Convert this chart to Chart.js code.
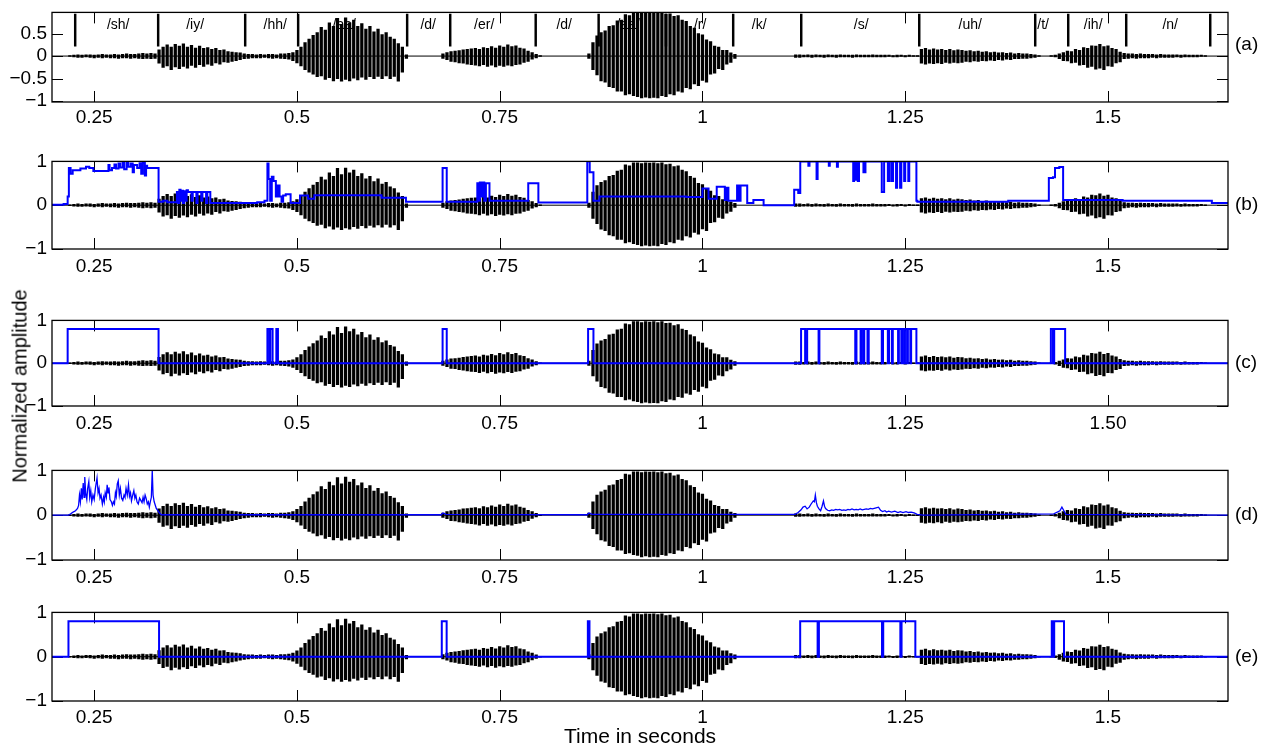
<!DOCTYPE html>
<html>
<head>
<meta charset="utf-8">
<script src="https://cdn.jsdelivr.net/npm/chart.js@4.4.1/dist/chart.umd.min.js"></script>
<style>
  html, body { margin: 0; padding: 0; background: #fff; }
  #figure { position: relative; width: 1277px; height: 751px; overflow: hidden; background: #fff; }
  #figure canvas { position: absolute; left: 0; }
  #ylabel {
    position: absolute; left: 20px; top: 386px;
    transform: translate(-50%, -50%) rotate(-90deg);
    font: 20px "Liberation Sans", Arial, Helvetica, sans-serif;
    white-space: nowrap; color: #000;
  }
</style>
</head>
<body>
<div id="figure">
  <canvas id="panelA"></canvas>
  <canvas id="panelB"></canvas>
  <canvas id="panelC"></canvas>
  <canvas id="panelD"></canvas>
  <canvas id="panelE"></canvas>
  <div id="ylabel">Normalized amplitude</div>
</div>
<script>
// Time axis (seconds)
const timeMin = 0.198;
const timeMax = 1.648;
const timeTicks = [0.25, 0.5, 0.75, 1, 1.25, 1.5];
const timeTickLabels = ['0.25', '0.5', '0.75', '1', '1.25', '1.5'];
const timeTickLabelsC = ['0.25', '0.5', '0.75', '1', '1.25', '1.50'];

// Amplitude ticks
const ampTicksA = [0.5, 0, -0.5, -1];
const ampTickLabelsA = ['0.5', '0', '\u22120.5', '\u22121'];
const ampTicks = [1, 0, -1];
const ampTickLabels = ['1', '0', '\u22121'];

// Speech waveform: peak / trough per 5 ms frame, starting at 0.220 s
const waveStart = 0.22;
const waveStep = 0.005;
const waveTop = [
  0.01, 0.02, 0.03, 0.02, 0.03, 0.03, 0.02, 0.03, 0.04, 0.03, 0.03, 0.04, 0.03, 0.04, 0.05, 0.04, 0.04, 0.05, 0.06, 0.05, // 0.22
  0.06, 0.05, 0.14, 0.2, 0.25, 0.2, 0.26, 0.22, 0.27, 0.2, 0.24, 0.18, 0.22, 0.17, 0.19, 0.15, 0.17, 0.13, 0.14, 0.1,      // 0.32
  0.09, 0.08, 0.07, 0.05, 0.04, 0.04, 0.03, 0.04, 0.03, 0.04, 0.04, 0.03, 0.05, 0.05, 0.06, 0.08, 0.13, 0.2, 0.3, 0.38,    // 0.42
  0.46, 0.52, 0.64, 0.58, 0.74, 0.66, 0.84, 0.7, 0.85, 0.74, 0.8, 0.66, 0.72, 0.6, 0.66, 0.54, 0.6, 0.48, 0.52, 0.42,      // 0.52
  0.38, 0.28, 0.2, 0.03, 0, 0, 0, 0, 0, 0, 0, 0, 0.05, 0.08, 0.1, 0.11, 0.12, 0.14, 0.15, 0.16,                           // 0.62
  0.17, 0.15, 0.19, 0.17, 0.21, 0.18, 0.23, 0.2, 0.25, 0.21, 0.23, 0.18, 0.16, 0.11, 0.08, 0.04, 0.01, 0, 0, 0,            // 0.72
  0, 0, 0, 0, 0, 0, 0, 0, 0.05, 0.3, 0.45, 0.52, 0.56, 0.66, 0.68, 0.78, 0.8, 0.92, 0.9, 0.97,                            // 0.82
  0.97, 0.95, 0.97, 0.96, 0.97, 0.95, 0.97, 0.93, 0.94, 0.88, 0.9, 0.8, 0.77, 0.66, 0.62, 0.5, 0.47, 0.36, 0.32, 0.22,     // 0.92
  0.2, 0.13, 0.13, 0.07, 0.04, 0, 0, 0, 0, 0, 0, 0, 0, 0, 0, 0, 0, 0, 0, 0.03,                                             // 1.02
  0.03, 0.02, 0.03, 0.02, 0.03, 0.02, 0.02, 0.03, 0.02, 0.02, 0.03, 0.02, 0.02, 0.02, 0.03, 0.02, 0.02, 0.02, 0.03, 0.02, // 1.12
  0.02, 0.02, 0.02, 0.01, 0.02, 0.02, 0.01, 0.02, 0.01, 0.01, 0.15, 0.17, 0.14, 0.16, 0.14, 0.15, 0.13, 0.15, 0.12, 0.14, // 1.22
  0.13, 0.11, 0.12, 0.1, 0.11, 0.09, 0.1, 0.08, 0.09, 0.07, 0.08, 0.06, 0.07, 0.05, 0.06, 0.05, 0.05, 0.04, 0.03, 0.01,    // 1.32
  0, 0, 0.01, 0.02, 0.05, 0.08, 0.11, 0.1, 0.15, 0.13, 0.19, 0.17, 0.23, 0.22, 0.26, 0.21, 0.23, 0.17, 0.15, 0.09,         // 1.42
  0.06, 0.05, 0.05, 0.04, 0.05, 0.04, 0.04, 0.04, 0.03, 0.04, 0.03, 0.03, 0.03, 0.03, 0.02, 0.03, 0.02, 0.02, 0.02, 0.02, // 1.52
  0.01, 0                                                                                                                   // 1.62
];
const waveBottom = [
  -0.01, -0.02, -0.03, -0.03, -0.02, -0.03, -0.04, -0.03, -0.04, -0.03, -0.04, -0.04, -0.05, -0.04, -0.04, -0.05, -0.04, -0.05, -0.06, -0.05,
  -0.06, -0.05, -0.16, -0.25, -0.22, -0.3, -0.24, -0.28, -0.23, -0.27, -0.21, -0.25, -0.19, -0.23, -0.18, -0.21, -0.15, -0.18, -0.13, -0.14,
  -0.12, -0.1, -0.08, -0.06, -0.05, -0.04, -0.04, -0.04, -0.03, -0.04, -0.05, -0.04, -0.05, -0.06, -0.07, -0.1, -0.15, -0.22, -0.3, -0.36,
  -0.4, -0.46, -0.44, -0.52, -0.48, -0.55, -0.5, -0.56, -0.52, -0.55, -0.49, -0.53, -0.47, -0.52, -0.46, -0.5, -0.45, -0.5, -0.44, -0.5,
  -0.45, -0.56, -0.36, -0.05, 0, 0, 0, 0, 0, 0, 0, 0, -0.05, -0.08, -0.12, -0.13, -0.15, -0.16, -0.18, -0.19,
  -0.2, -0.22, -0.19, -0.23, -0.2, -0.24, -0.21, -0.23, -0.2, -0.22, -0.19, -0.18, -0.14, -0.12, -0.07, -0.04, -0.01, 0, 0, 0,
  0, 0, 0, 0, 0, 0, 0, 0, -0.05, -0.3, -0.42, -0.55, -0.58, -0.68, -0.7, -0.78, -0.78, -0.86, -0.84, -0.88,
  -0.9, -0.93, -0.91, -0.93, -0.92, -0.93, -0.88, -0.9, -0.84, -0.86, -0.78, -0.8, -0.7, -0.73, -0.62, -0.66, -0.54, -0.58, -0.4, -0.38,
  -0.28, -0.3, -0.18, -0.14, -0.05, 0, 0, 0, 0, 0, 0, 0, 0, 0, 0, 0, 0, 0, 0, -0.03,
  -0.03, -0.02, -0.02, -0.03, -0.02, -0.02, -0.03, -0.02, -0.02, -0.03, -0.02, -0.02, -0.02, -0.03, -0.02, -0.02, -0.02, -0.02, -0.02, -0.02,
  -0.02, -0.02, -0.01, -0.02, -0.02, -0.01, -0.02, -0.01, -0.01, -0.01, -0.16, -0.18, -0.16, -0.17, -0.15, -0.17, -0.14, -0.16, -0.14, -0.15,
  -0.14, -0.12, -0.13, -0.11, -0.12, -0.1, -0.11, -0.09, -0.1, -0.08, -0.09, -0.07, -0.08, -0.06, -0.06, -0.05, -0.05, -0.04, -0.03, -0.01,
  0, 0, -0.01, -0.02, -0.06, -0.1, -0.11, -0.15, -0.14, -0.2, -0.19, -0.25, -0.23, -0.29, -0.27, -0.3, -0.22, -0.23, -0.15, -0.13,
  -0.06, -0.05, -0.04, -0.05, -0.04, -0.04, -0.04, -0.03, -0.04, -0.03, -0.03, -0.03, -0.03, -0.02, -0.03, -0.02, -0.02, -0.02, -0.02, -0.01,
  -0.01, 0
];

// Phoneme segmentation (boundaries in seconds) and label positions
const phoneBounds = [0.2266, 0.3289, 0.4362, 0.5015, 0.6359, 0.689, 0.7944, 0.872, 0.955, 1.0379, 1.1218, 1.2673, 1.4103, 1.451, 1.5225, 1.6261];
const phoneNames = ['/sh/', '/iy/', '/hh/', '/aa/', '/d/', '/er/', '/d/', '/aa/', '/r/', '/k/', '/s/', '/uh/', '/t/', '/ih/', '/n/'];
const phoneLabelTimes = [0.2796, 0.3745, 0.4732, 0.5583, 0.6618, 0.7309, 0.8295, 0.9084, 0.9972, 1.07, 1.1958, 1.3301, 1.4201, 1.4818, 1.5767];

// (b) detector output, value held from each change time
const detBTimes = [
  0.198, 0.2123, 0.2173, 0.2188, 0.2209, 0.2235, 0.233, 0.2399, 0.244, 0.249, 0.2676, 0.269, 0.272, 0.275, 0.277, 0.28, 0.282, 0.285,
  0.287, 0.29, 0.292, 0.295, 0.2975, 0.299, 0.303, 0.306, 0.308, 0.31, 0.3125, 0.314, 0.3153, 0.3294, 0.335, 0.34, 0.352, 0.3535,
  0.355, 0.3565, 0.358, 0.3595, 0.361, 0.3625, 0.364, 0.3656, 0.37, 0.3715, 0.376, 0.3775, 0.382, 0.3835, 0.388, 0.3895, 0.3932,
  0.451, 0.46, 0.4636, 0.465, 0.467, 0.469, 0.4711, 0.474, 0.4761, 0.4786, 0.481, 0.483, 0.4862, 0.4922, 0.5038, 0.5138, 0.5214,
  0.6043, 0.6344, 0.6796, 0.6847, 0.7224, 0.724, 0.7255, 0.727, 0.729, 0.731, 0.733, 0.7374, 0.7852, 0.7977, 0.858, 0.861, 0.8656,
  0.873, 0.98, 1.0, 1.0075, 1.0176, 1.0276, 1.03, 1.032, 1.0427, 1.045, 1.047, 1.0552, 1.0628, 1.0754, 1.1131, 1.1181, 1.1206,
  1.1306, 1.132, 1.1407, 1.142, 1.1558, 1.157, 1.1658, 1.167, 1.1859, 1.187, 1.1885, 1.19, 1.1915, 1.193, 1.1985, 1.201, 1.2211,
  1.224, 1.2286, 1.231, 1.2337, 1.235, 1.2387, 1.24, 1.2437, 1.2452, 1.2487, 1.25, 1.2538, 1.255, 1.2638, 1.265, 1.377, 1.4271,
  1.4322, 1.4347, 1.44, 1.4447, 1.5181, 1.6281, 1.648
];
const detBValues = [
  0.01, 0.03, 0.2, 0.85, 0.72, 0.8, 0.84, 0.88, 0.85, 0.78, 0.92, 0.8, 0.85, 0.93, 0.84, 0.95, 0.86, 0.97,
  0.82, 1.0, 0.88, 0.95, 0.75, 0.92, 0.85, 0.96, 0.72, 0.97, 0.68, 0.9, 0.85, 0.08, 0.1, 0.07, 0.3, 0.05,
  0.35, 0.1, 0.33, 0.05, 0.32, 0.1, 0.34, 0.3, 0.1, 0.3, 0.05, 0.3, 0.1, 0.3, 0.05, 0.3, 0.05,
  0.07, 0.1, 0.95, 0.6, 0.1, 0.65, 0.55, 0.2, 0.45, 0.2, 0.08, 0.22, 0.25, 0.05, 0.22, 0.15, 0.23,
  0.17, 0.08, 0.85, 0.08, 0.5, 0.1, 0.52, 0.2, 0.52, 0.1, 0.5, 0.1, 0.5, 0.06, 1.0, 0.75, 0.1,
  0.2, 0.19, 0.38, 0.15, 0.42, 0.12, 0.4, 0.1, 0.45, 0.1, 0.45, 0.05, 0.12, 0.0, 0.35, 0.28, 1.0,
  0.9, 1.0, 0.6, 1.0, 0.9, 1.0, 0.88, 1.0, 0.55, 1.0, 0.58, 1.0, 0.55, 1.0, 0.75, 1.0, 0.3,
  1.0, 0.55, 1.0, 0.55, 1.0, 0.4, 1.0, 0.4, 1.0, 0.55, 1.0, 0.55, 1.0, 0.1, 0.08, 0.1, 0.62,
  0.64, 0.85, 0.87, 0.12, 0.1, 0.05, 0.05
];

// (c) detector output
const detCTimes = [
  0.198, 0.2173, 0.3294, 0.4636, 0.4661, 0.4671, 0.47, 0.4746, 0.4766, 0.6796, 0.6847, 0.859, 0.8656,
  1.1216, 1.1266, 1.1291, 1.1432, 1.1442, 1.1884, 1.1899, 1.195, 1.196, 1.1985, 1.1995, 1.2035, 1.205,
  1.2211, 1.2226, 1.2286, 1.2302, 1.2337, 1.2347, 1.2412, 1.2422, 1.2452, 1.2462, 1.2487, 1.2497, 1.2523,
  1.2533, 1.2563, 1.2573, 1.2638, 1.4296, 1.4322, 1.4337, 1.4472, 1.648
];
const detCValues = [
  0, 0.8, 0, 0.8, 0, 0.8, 0, 0.8, 0, 0.8, 0, 0.8, 0,
  0.8, 0, 0.8, 0, 0.8, 0, 0.8, 0, 0.8, 0, 0.8, 0, 0.8,
  0, 0.8, 0, 0.8, 0, 0.8, 0, 0.8, 0, 0.8, 0, 0.8, 0,
  0.8, 0, 0.8, 0, 0.8, 0, 0.8, 0, 0
];

// (d) detector output (continuous)
const detDTimes = [
  0.198, 0.2182, 0.221, 0.224, 0.227, 0.2295, 0.2308, 0.2319, 0.233, 0.2342, 0.2352, 0.2365, 0.2375, 0.2384,
  0.2395, 0.2409, 0.242, 0.2434, 0.2445, 0.2458, 0.247, 0.2485, 0.25, 0.2515, 0.2535, 0.2548, 0.256, 0.2572,
  0.2585, 0.2601, 0.2615, 0.2625, 0.2636, 0.265, 0.266, 0.2671, 0.2682, 0.2695, 0.2712, 0.2725, 0.2737, 0.275,
  0.2762, 0.2772, 0.2785, 0.2797, 0.281, 0.2823, 0.2838, 0.2853, 0.2868, 0.288, 0.2893, 0.2908, 0.2923, 0.2935,
  0.2948, 0.296, 0.2975, 0.2989, 0.3002, 0.3014, 0.3028, 0.3044, 0.306, 0.3075, 0.309, 0.3103, 0.3115, 0.3128,
  0.314, 0.3155, 0.3168, 0.318, 0.3192, 0.3205, 0.3216, 0.3226, 0.324, 0.3266, 0.3306, 0.3327,
  0.678, 0.68, 0.684, 0.858, 0.86, 0.864,
  1.1141, 1.118, 1.1216, 1.124, 1.1266, 1.129, 1.1317, 1.134, 1.1367, 1.138, 1.1392, 1.1405, 1.1417, 1.1437,
  1.1457, 1.1475, 1.1492, 1.1505, 1.1518, 1.1543, 1.1568, 1.1593, 1.1618, 1.1643, 1.1668, 1.1693, 1.1719, 1.1744,
  1.1768, 1.1794, 1.1819, 1.1844, 1.187, 1.1895, 1.192, 1.1945, 1.197, 1.1995, 1.202, 1.2045, 1.207, 1.2095,
  1.213, 1.2171, 1.2196, 1.2221, 1.225, 1.227, 1.2296, 1.233, 1.2372, 1.241, 1.244, 1.2472, 1.251, 1.254,
  1.2573, 1.261, 1.2648, 1.2724,
  1.4332, 1.4407, 1.4432, 1.4457, 1.4482, 1.648
];
const detDValues = [
  0, 0, 0.03, 0.07, 0.1, 0.15, 0.22, 0.45, 0.3, 0.6, 0.35, 0.72, 0.4, 0.85,
  0.5, 0.35, 0.6, 0.75, 0.4, 0.55, 0.3, 0.45, 0.35, 0.6, 0.83, 0.5, 0.6, 0.38,
  0.45, 0.25, 0.4, 0.3, 0.5, 0.4, 0.68, 0.5, 0.62, 0.35, 0.3, 0.22, 0.3, 0.25,
  0.5, 0.42, 0.7, 0.77, 0.45, 0.6, 0.38, 0.33, 0.45, 0.4, 0.6, 0.45, 0.68, 0.42,
  0.5, 0.32, 0.45, 0.55, 0.38, 0.45, 0.3, 0.25, 0.38, 0.33, 0.28, 0.4, 0.3, 0.45,
  0.38, 0.25, 0.3, 0.18, 0.3, 0.4, 1.0, 0.45, 0.3, 0.15, 0.05, 0.01,
  0.01, 0.05, 0.02, 0.01, 0.05, 0.02,
  0.02, 0.06, 0.12, 0.18, 0.2, 0.14, 0.18, 0.25, 0.32, 0.3, 0.45, 0.28, 0.2, 0.14,
  0.1, 0.2, 0.32, 0.2, 0.15, 0.11, 0.1, 0.12, 0.11, 0.13, 0.12, 0.13, 0.11, 0.12,
  0.11, 0.13, 0.12, 0.14, 0.12, 0.13, 0.12, 0.14, 0.12, 0.13, 0.14, 0.13, 0.15, 0.14,
  0.16, 0.18, 0.11, 0.08, 0.1, 0.07, 0.09, 0.07, 0.09, 0.06, 0.08, 0.06, 0.08, 0.06,
  0.07, 0.05, 0.02, 0,
  0.03, 0.1, 0.18, 0.1, 0.02, 0
];

// (e) detector output
const detETimes = [
  0.198, 0.2183, 0.33, 0.6786, 0.6846, 0.8587, 0.8607, 1.1205, 1.142, 1.1436, 1.2214, 1.2229,
  1.244, 1.2455, 1.2625, 1.4307, 1.4322, 1.4337, 1.4458, 1.648
];
const detEValues = [
  0, 0.8, 0, 0.8, 0, 0.8, 0, 0.8, 0, 0.8, 0, 0.8,
  0, 0.8, 0, 0.8, 0, 0.8, 0, 0
];

Chart.defaults.font.family = '"Liberation Sans", Arial, Helvetica, sans-serif';
Chart.defaults.color = '#000';

const tickLen = 11;
const phoneLabelLevel = 0.68;

// Frame, inward ticks, panel letter and phoneme labels
const panelFrame = {
  id: 'panelFrame',
  beforeDatasetsDraw(chart, args, opts) {
    const { ctx, chartArea: area, scales: { x, y } } = chart;
    ctx.save();
    ctx.strokeStyle = '#000';
    ctx.lineWidth = 1;
    ctx.beginPath();
    timeTicks.forEach(v => {
      const px = Math.round(x.getPixelForValue(v)) + 0.5;
      ctx.moveTo(px, area.top);
      ctx.lineTo(px, area.top + tickLen);
      ctx.moveTo(px, area.bottom);
      ctx.lineTo(px, area.bottom - tickLen);
    });
    opts.yTicks.forEach(v => {
      const py = Math.round(y.getPixelForValue(v)) + 0.5;
      ctx.moveTo(area.left, py);
      ctx.lineTo(area.left + tickLen, py);
      ctx.moveTo(area.right, py);
      ctx.lineTo(area.right - tickLen, py);
    });
    ctx.stroke();

    if (opts.phonemes) {
      ctx.fillStyle = '#000';
      ctx.font = '14px "Liberation Sans", Arial, sans-serif';
      ctx.textAlign = 'center';
      ctx.textBaseline = 'middle';
      phoneNames.forEach((name, i) => {
        ctx.fillText(name, x.getPixelForValue(phoneLabelTimes[i]), y.getPixelForValue(phoneLabelLevel));
      });
    }
    ctx.restore();
  },
  afterDraw(chart, args, opts) {
    const { ctx, chartArea: area, scales: { y } } = chart;
    ctx.save();
    ctx.strokeStyle = '#000';
    ctx.lineWidth = 1.3;
    ctx.strokeRect(area.left, area.top, area.right - area.left, area.bottom - area.top);
    ctx.fillStyle = '#000';
    ctx.font = '19px "Liberation Sans", Arial, sans-serif';
    ctx.textAlign = 'left';
    ctx.textBaseline = 'middle';
    ctx.fillText(opts.letter, area.right + 7, y.getPixelForValue(opts.letterLevel));
    ctx.restore();
  }
};

function waveBars() {
  const bars = [];
  waveTop.forEach((top, i) => {
    if (top === 0 && waveBottom[i] === 0) return;
    bars.push({ x: waveStart + i * waveStep, y: [waveBottom[i], top] });
  });
  return bars;
}

function toPoints(times, values) {
  return times.map((t, i) => ({ x: t, y: values[i] }));
}

function buildPanel(cfg) {
  const padTop = 12;
  const canvas = document.getElementById(cfg.id);
  canvas.width = 1277;
  canvas.height = padTop + cfg.height + cfg.axisHeight;
  canvas.style.top = (cfg.top - padTop) + 'px';

  const datasets = [];
  if (cfg.detector) {
    datasets.push({
      type: 'line',
      data: toPoints(cfg.detector.times, cfg.detector.values),
      borderColor: '#0000ff',
      borderWidth: cfg.detector.width,
      pointRadius: 0,
      stepped: cfg.detector.stepped ? 'before' : false,
      tension: 0,
      fill: false,
      order: 0
    });
  }
  datasets.push({
    type: 'line',
    data: [{ x: timeMin, y: 0 }, { x: timeMax, y: 0 }],
    borderColor: '#000',
    borderWidth: 1,
    pointRadius: 0,
    order: 3
  });
  datasets.push({
    type: 'bar',
    data: waveBars(),
    backgroundColor: '#000',
    borderWidth: 0,
    barThickness: 2.6,
    grouped: false,
    order: 2
  });
  if (cfg.phonemes) {
    datasets.push({
      type: 'bar',
      data: phoneBounds.map(t => ({ x: t, y: [0.22, 0.93] })),
      backgroundColor: '#000',
      borderWidth: 0,
      barThickness: 1.8,
      grouped: false,
      order: 4
    });
  }

  const xTitle = cfg.xTitle
    ? { display: true, text: cfg.xTitle, font: { size: 21 }, color: '#000', padding: { top: 0, bottom: 1 } }
    : { display: false };

  return new Chart(canvas, {
    type: 'bar',
    data: { datasets },
    options: {
      responsive: false,
      animation: false,
      devicePixelRatio: 1,
      events: [],
      layout: { padding: { top: padTop, right: 49, left: 0, bottom: 0 } },
      plugins: {
        legend: { display: false },
        tooltip: { enabled: false },
        panelFrame: {
          yTicks: cfg.yTicks,
          letter: cfg.letter,
          letterLevel: cfg.letterLevel,
          phonemes: cfg.phonemes
        }
      },
      scales: {
        x: {
          type: 'linear',
          min: timeMin,
          max: timeMax,
          offset: false,
          grid: { display: false, drawTicks: false },
          border: { display: false },
          afterBuildTicks: scale => { scale.ticks = timeTicks.map(v => ({ value: v })); },
          afterFit: scale => { scale.height = cfg.axisHeight; },
          ticks: {
            autoSkip: false,
            maxRotation: 0,
            padding: cfg.tickPad,
            font: { size: 19 },
            color: '#000',
            callback: (value, index) => cfg.xLabels[index]
          },
          title: xTitle
        },
        y: {
          type: 'linear',
          min: cfg.yMin,
          max: cfg.yMax,
          grid: { display: false, drawTicks: false },
          border: { display: false },
          afterBuildTicks: scale => { scale.ticks = cfg.yTicks.map(v => ({ value: v })); },
          afterFit: scale => { scale.width = 52; },
          ticks: {
            padding: 5,
            font: { size: 19 },
            color: '#000',
            callback: (value, index) => cfg.yLabels[index]
          }
        }
      }
    },
    plugins: [panelFrame]
  });
}

buildPanel({
  id: 'panelA', top: 8, height: 94, axisHeight: 30, tickPad: 4,
  yMin: -1.02, yMax: 0.97, yTicks: ampTicksA, yLabels: ampTickLabelsA,
  xLabels: timeTickLabels, letter: '(a)', letterLevel: 0.25, phonemes: true
});
buildPanel({
  id: 'panelB', top: 157, height: 92, axisHeight: 30, tickPad: 6,
  yMin: -1, yMax: 1, yTicks: ampTicks, yLabels: ampTickLabels,
  xLabels: timeTickLabels, letter: '(b)', letterLevel: 0,
  detector: { times: detBTimes, values: detBValues, stepped: true, width: 2 }
});
buildPanel({
  id: 'panelC', top: 316, height: 90, axisHeight: 30, tickPad: 6,
  yMin: -1, yMax: 1, yTicks: ampTicks, yLabels: ampTickLabels,
  xLabels: timeTickLabelsC, letter: '(c)', letterLevel: 0,
  detector: { times: detCTimes, values: detCValues, stepped: true, width: 2 }
});
buildPanel({
  id: 'panelD', top: 466, height: 94, axisHeight: 30, tickPad: 6,
  yMin: -1, yMax: 1, yTicks: ampTicks, yLabels: ampTickLabels,
  xLabels: timeTickLabels, letter: '(d)', letterLevel: 0,
  detector: { times: detDTimes, values: detDValues, stepped: false, width: 1.3 }
});
buildPanel({
  id: 'panelE', top: 608, height: 93, axisHeight: 50, tickPad: 5,
  yMin: -1, yMax: 1, yTicks: ampTicks, yLabels: ampTickLabels,
  xLabels: timeTickLabels, letter: '(e)', letterLevel: 0,
  detector: { times: detETimes, values: detEValues, stepped: true, width: 2 },
  xTitle: 'Time in seconds'
});
</script>
</body>
</html>
